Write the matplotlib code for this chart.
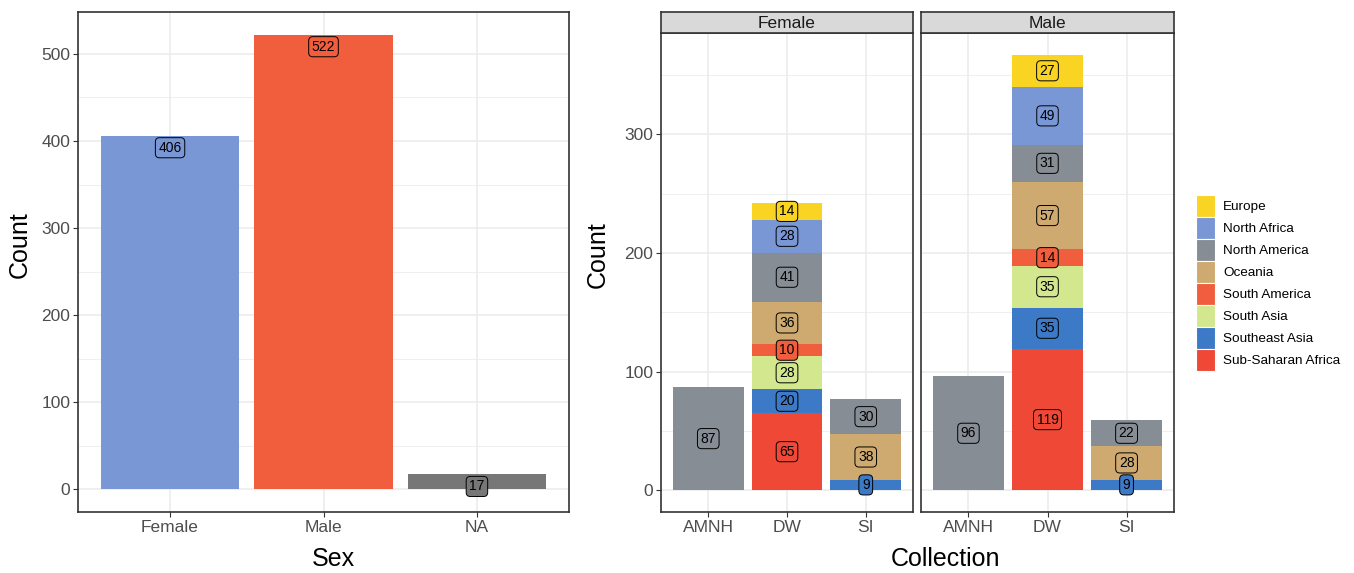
import matplotlib.pyplot as plt
import matplotlib.patches as patches
import numpy as np

plt.rcParams['font.family'] = ['Liberation Sans', 'DejaVu Sans']

# left panel data
sex_cats = ['Female', 'Male', 'NA']
sex_counts = [406, 522, 17]
sex_colors = ['#7A97D5', '#F15E3D', '#777777']

# right panel data
collections = ['AMNH', 'DW', 'SI']
regions = ['Sub-Saharan Africa', 'Southeast Asia', 'South Asia', 'South America',
           'Oceania', 'North America', 'North Africa', 'Europe']
region_colors = ['#EF4836', '#3C79C6', '#D3E78F', '#F15E3D',
                 '#CFAA70', '#878D94', '#7A97D5', '#F9D423']
# counts per region (bottom -> top) for AMNH, DW, SI
female_counts = {
    'Sub-Saharan Africa': [0, 65, 0],
    'Southeast Asia': [0, 20, 9],
    'South Asia': [0, 28, 0],
    'South America': [0, 10, 0],
    'Oceania': [0, 36, 38],
    'North America': [87, 41, 30],
    'North Africa': [0, 28, 0],
    'Europe': [0, 14, 0],
}
male_counts = {
    'Sub-Saharan Africa': [0, 119, 0],
    'Southeast Asia': [0, 35, 9],
    'South Asia': [0, 35, 0],
    'South America': [0, 14, 0],
    'Oceania': [0, 57, 28],
    'North America': [96, 31, 22],
    'North Africa': [0, 49, 0],
    'Europe': [0, 27, 0],
}

W, H = 1354, 573
fig = plt.figure(figsize=(W / 100, H / 100), dpi=100)
fig.patch.set_facecolor('white')


def px_axes(x0, y0, x1, y1):
    return fig.add_axes([x0 / W, 1 - y1 / H, (x1 - x0) / W, (y1 - y0) / H])


def style_ax(ax, ymax, major, show_y=True):
    ax.set_facecolor('white')
    ax.set_xlim(0.4, 3.6)
    ax.set_ylim(-0.05 * ymax, ymax * 1.05)
    ax.set_yticks(np.arange(0, ymax * 1.05, major))
    ax.set_yticks(np.arange(major / 2, ymax * 1.05, major), minor=True)
    ax.grid(True, which='major', color='#EBEBEB', lw=1.1)
    ax.grid(True, which='minor', axis='y', color='#EBEBEB', lw=0.55)
    ax.set_axisbelow(True)
    ax.tick_params(axis='both', which='major', length=3.5, width=0.8, color='#333333',
                   labelsize=12.5, labelcolor='#4D4D4D', pad=2)
    ax.tick_params(which='minor', length=0)
    if not show_y:
        ax.tick_params(axis='y', which='both', left=False, labelleft=False)
    for s in ax.spines.values():
        s.set_color('#333333')
        s.set_linewidth(1.2)


def label(ax, x, y, txt, color, va='center', dy=0):
    ax.annotate(txt, (x, y), xytext=(0, dy), textcoords='offset points',
                ha='center', va=va, fontsize=10, color='black', zorder=5,
                bbox=dict(boxstyle='round,pad=0.22,rounding_size=0.3', fc=color, ec='black', lw=0.7))


# ---- Left: Sex ----
ax1 = px_axes(78, 12, 569, 512)
x = np.arange(1, 4)
ax1.bar(x, sex_counts, width=0.9, color=sex_colors, zorder=2)
style_ax(ax1, max(sex_counts), 100)
ax1.set_xticks(x)
ax1.set_xticklabels(sex_cats)
for xi, v, c in zip(x, sex_counts, sex_colors):
    label(ax1, xi, v, str(v), c, va='top', dy=-3.6)
fig.text(333 / W, 1 - 559 / H, 'Sex', ha='center', va='center', fontsize=18)
fig.text(20 / W, 1 - 245 / H, 'Count', ha='center', va='center', fontsize=18, rotation=90)

# ---- Right: faceted stacked bars ----
ymax = max(sum(male_counts[r][1] for r in regions), sum(female_counts[r][1] for r in regions))
panels = [('Female', female_counts, 661, 913), ('Male', male_counts, 921, 1174)]
for i, (name, counts, x0, x1) in enumerate(panels):
    ax = px_axes(x0, 33, x1, 512)
    bottom = np.zeros(3)
    for reg, col in zip(regions, region_colors):
        vals = np.array(counts[reg], dtype=float)
        ax.bar(x, vals, width=0.9, bottom=bottom, color=col, zorder=2)
        for xi, v, b in zip(x, vals, bottom):
            if v > 0:
                label(ax, xi, b + v / 2, str(int(v)), col)
        bottom += vals
    style_ax(ax, ymax, 100, show_y=(i == 0))
    ax.set_xticks(x)
    ax.set_xticklabels(collections)
    # strip
    sax = px_axes(x0, 12, x1, 33)
    sax.set_facecolor('#D9D9D9')
    sax.set_xticks([])
    sax.set_yticks([])
    for s in sax.spines.values():
        s.set_color('#333333')
        s.set_linewidth(1.2)
    sax.text(0.5, 0.45, name, ha='center', va='center', fontsize=12.5, color='#1A1A1A',
             transform=sax.transAxes)

fig.text(598 / W, 1 - 255 / H, 'Count', ha='center', va='center', fontsize=18, rotation=90)
fig.text(946 / W, 1 - 559 / H, 'Collection', ha='center', va='center', fontsize=18)

# legend
handles = [patches.Patch(facecolor=c, edgecolor='white', lw=0.8, label=r)
           for r, c in zip(regions[::-1], region_colors[::-1])]
fig.legend(handles=handles, loc='upper left', bbox_to_anchor=(1196 / W, 1 - 195 / H),
           frameon=False, fontsize=9.7, handlelength=1.41, handleheight=2.13,
           labelspacing=0.0, handletextpad=0.6, borderpad=0, borderaxespad=0)

fig.savefig('out.png', dpi=100, facecolor='white')
